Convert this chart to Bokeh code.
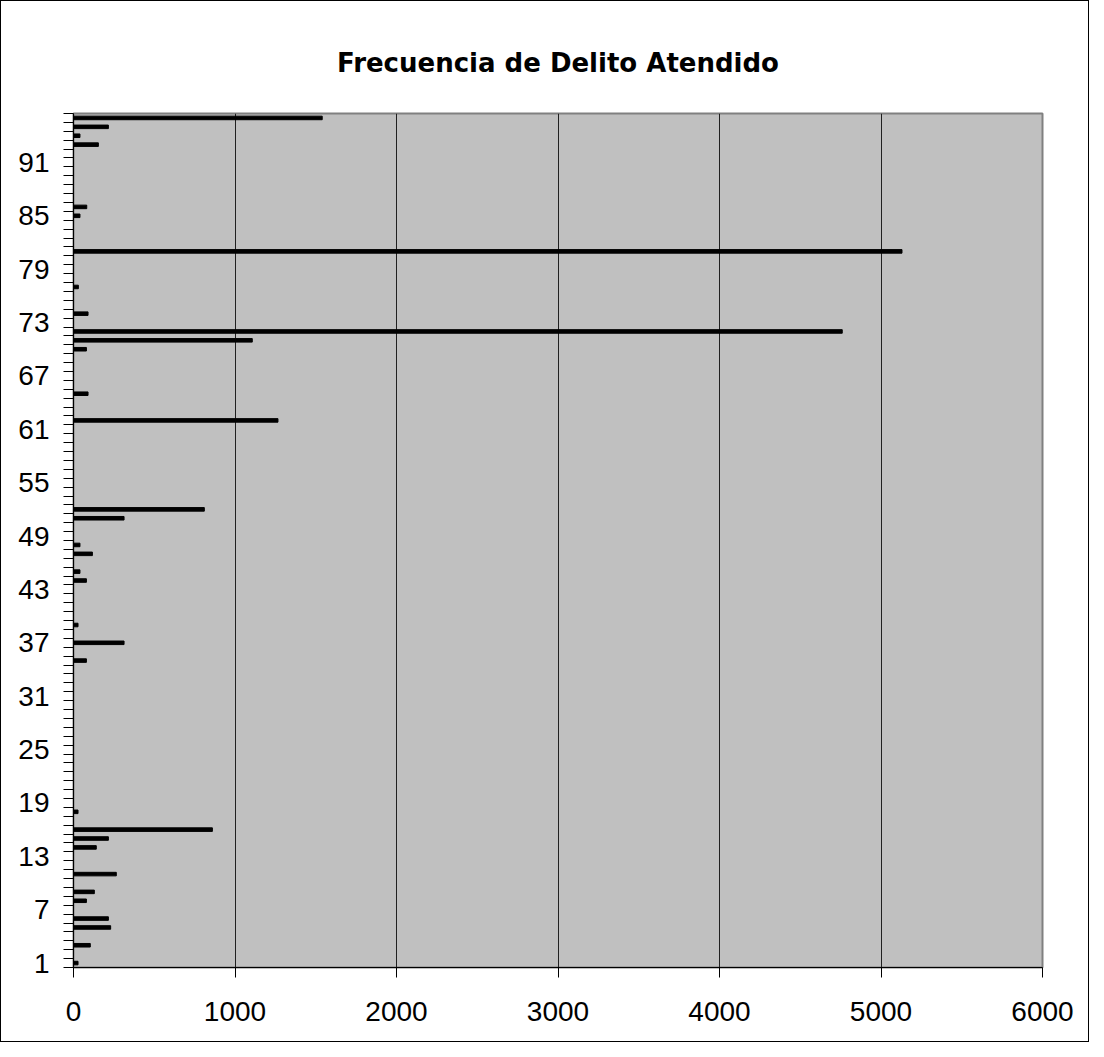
from bokeh.plotting import figure
from bokeh.models import FixedTicker, Range1d
from bokeh.embed import file_html
from bokeh.resources import INLINE

# Category number (1..96) and attended-crime frequency
categories = [1, 3, 5, 6, 8, 9, 11, 14, 15, 16, 18, 35, 37, 39, 44, 45, 47, 48,
              51, 52, 62, 65, 70, 71, 72, 74, 77, 81, 85, 86, 93, 94, 95, 96]
frequencies = [28, 104, 230, 216, 80, 129, 265, 141, 216, 860, 28, 80, 313, 28, 80, 40, 117, 40,
               313, 810, 1266, 90, 80, 1107, 4760, 90, 30, 5130, 40, 82, 154, 40, 216, 1540]
n_categories = 96
y_tick_labels = list(range(1, 92, 6))
x_ticks = [0, 1000, 2000, 3000, 4000, 5000, 6000]

p = figure(frame_width=969, frame_height=854,
           min_border_left=72, min_border_right=46, min_border_top=112, min_border_bottom=74,
           x_range=Range1d(0, 6000), y_range=Range1d(0.5, n_categories + 0.5),
           output_backend="svg", toolbar_location=None, title="Frecuencia de Delito Atendido")
p.styles = {"border": "1px solid black"}

p.hbar(y=categories, right=frequencies, left=0, height=0.4, color="black")

p.background_fill_color = "#C0C0C0"
p.border_fill_color = "white"
p.outline_line_color = "#808080"
p.outline_line_width = 2

p.title.text_font = "DejaVu Sans"
p.title.text_font_style = "bold"
p.title.text_font_size = "26px"
p.title.text_color = "black"
p.title.align = "center"
p.title.standoff = 71

# x axis
p.xaxis.ticker = FixedTicker(ticks=x_ticks)
p.xaxis.major_tick_out = 10
p.xaxis.major_tick_in = 0
p.xaxis.minor_tick_line_color = None
p.xaxis.axis_line_color = "black"
p.xaxis.major_tick_line_color = "black"
p.xaxis.major_label_text_font = "Liberation Sans"
p.xaxis.major_label_text_font_size = "28px"
p.xaxis.major_label_text_color = "black"
p.xaxis.major_label_standoff = 24

# y axis
p.yaxis.ticker = FixedTicker(ticks=y_tick_labels,
                             minor_ticks=[i + 0.5 for i in range(0, n_categories + 1)])
p.yaxis.major_tick_out = 0
p.yaxis.major_tick_in = 0
p.yaxis.minor_tick_out = 10
p.yaxis.minor_tick_in = 0
p.yaxis.minor_tick_line_color = "black"
p.yaxis.axis_line_color = "black"
p.yaxis.major_label_text_font = "Liberation Sans"
p.yaxis.major_label_text_font_size = "28px"
p.yaxis.major_label_text_color = "black"
p.yaxis.major_label_standoff = 14

p.xgrid.ticker = FixedTicker(ticks=x_ticks)
p.xgrid.grid_line_color = "#202020"
p.xgrid.grid_line_width = 1
p.ygrid.grid_line_color = None

open("out.html", "w").write(file_html(p, INLINE))
